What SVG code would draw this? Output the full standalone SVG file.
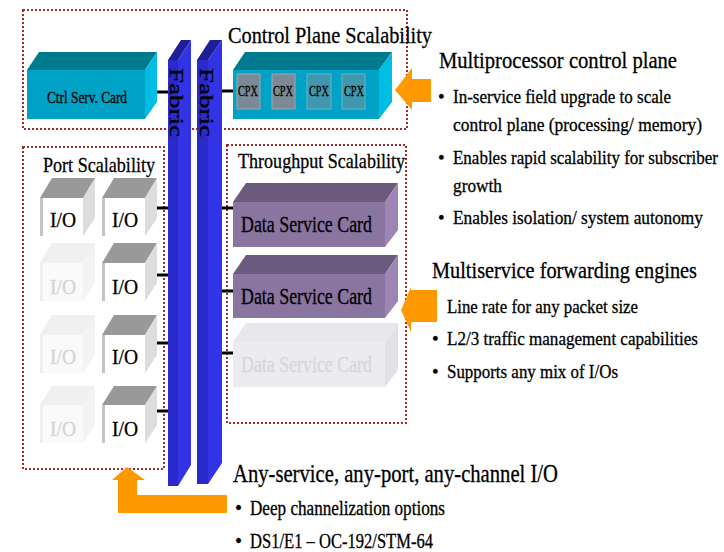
<svg xmlns="http://www.w3.org/2000/svg" width="724" height="552" viewBox="0 0 724 552">
<style>
.dash{fill:none;stroke:#a52a2a;stroke-width:2;stroke-dasharray:2 2}
.t{font-family:"Liberation Serif","Times New Roman",serif;fill:#000;stroke:#000;stroke-width:0.3}
.fade{fill:#d4d4d4;stroke:#d4d4d4}
.gfade{fill:#d8d6dc;stroke:#d8d6dc}
.wire{stroke:#000;stroke-width:3}
.arrow{fill:#ff9900}
.ctop{fill:#007a8e}.cfront{fill:#00a2c6}.cside{fill:#00bde4}
.cpx{fill:#7b8a96;stroke:#9aa8b2;stroke-width:1}
.cpx2{fill:#3f98ae;stroke:#6ab2c4;stroke-width:1}
.btop{fill:#1e1e98}.bfront{fill:#2a2acb}.bside{fill:#3333e6}
.iotop{fill:#999}.iofront{fill:#fff}.ioside{fill:#ddd}.iostripe{fill:#c4c4c4}
.ftop{fill:#f0f0f0}.ffront{fill:#fafafa}.fside{fill:#f3f3f3}.fstripe{fill:#efefef}
.dtop{fill:#6c5a7e}.dfront{fill:#8a74a0}.dside{fill:#9d86b6}
.gtop{fill:#e9e7ec}.gfront{fill:#ecebef}.gside{fill:#e3e1e7}
</style>
<rect width="724" height="552" fill="#fff"/>

<g id="regions">
<rect class="dash" x="23" y="10" width="384" height="119"/>
<rect class="dash" x="23" y="147" width="141" height="322"/>
<rect class="dash" x="227" y="145" width="179" height="278"/>
</g>

<g id="ctrl-card">
<polygon class="ctop" points="27,70 39,52 157,52 145,70"/>
<polygon class="cside" points="145,70 157,52 157,102 145,119"/>
<rect class="cfront" x="27" y="70" width="118" height="49"/>
<text class="t" x="47" y="103" font-size="17" textLength="80" lengthAdjust="spacingAndGlyphs">Ctrl Serv. Card</text>
</g>

<g id="cpx-card">
<polygon class="ctop" points="233,70 245,52 392,52 379,70"/>
<polygon class="cside" points="379,70 392,52 392,102 379,119"/>
<rect class="cfront" x="233" y="70" width="146" height="49"/>
<rect class="cpx" x="237" y="74" width="23" height="35"/>
<rect class="cpx" x="272" y="74" width="23" height="35"/>
<rect class="cpx2" x="307" y="74" width="24" height="35"/>
<rect class="cpx2" x="342" y="74" width="23" height="35"/>
<text class="t" x="238" y="96" font-size="14" textLength="20" lengthAdjust="spacingAndGlyphs">CPX</text>
<text class="t" x="273" y="96" font-size="14" textLength="20" lengthAdjust="spacingAndGlyphs">CPX</text>
<text class="t" x="309" y="96" font-size="14" textLength="20" lengthAdjust="spacingAndGlyphs">CPX</text>
<text class="t" x="344" y="96" font-size="14" textLength="20" lengthAdjust="spacingAndGlyphs">CPX</text>
</g>

<g id="titles">
<text class="t" x="228" y="43" font-size="24" textLength="204" lengthAdjust="spacingAndGlyphs">Control Plane Scalability</text>
<text class="t" x="43" y="172" font-size="22" textLength="112" lengthAdjust="spacingAndGlyphs">Port Scalability</text>
<text class="t" x="238" y="168" font-size="22" textLength="167" lengthAdjust="spacingAndGlyphs">Throughput Scalability</text>
</g>

<g id="io-cards">
<g id="io-1-1">
<polygon class="iotop" points="40,198 52,178 95,178 83,198"/>
<polygon class="ioside" points="83,198 95,178 95,218 83,236"/>
<rect class="iofront" x="40" y="198" width="43" height="38"/><rect class="iostripe" x="40" y="198" width="3" height="38"/>
<text class="t" x="50" y="227" font-size="21" textLength="26" lengthAdjust="spacingAndGlyphs">I/O</text>
</g>
<g id="io-1-2">
<polygon class="iotop" points="102,198 114,178 157,178 145,198"/>
<polygon class="ioside" points="145,198 157,178 157,218 145,236"/>
<rect class="iofront" x="102" y="198" width="43" height="38"/><rect class="iostripe" x="102" y="198" width="3" height="38"/>
<text class="t" x="112" y="227" font-size="21" textLength="26" lengthAdjust="spacingAndGlyphs">I/O</text>
</g>
<g id="io-2-1">
<polygon class="ftop" points="40,263 52,243 95,243 83,263"/>
<polygon class="fside" points="83,263 95,243 95,283 83,301"/>
<rect class="ffront" x="40" y="263" width="43" height="38"/><rect class="fstripe" x="40" y="263" width="3" height="38"/>
<text class="t fade" x="50" y="294" font-size="21" textLength="26" lengthAdjust="spacingAndGlyphs">I/O</text>
</g>
<g id="io-2-2">
<polygon class="iotop" points="102,263 114,243 157,243 145,263"/>
<polygon class="ioside" points="145,263 157,243 157,283 145,301"/>
<rect class="iofront" x="102" y="263" width="43" height="38"/><rect class="iostripe" x="102" y="263" width="3" height="38"/>
<text class="t" x="112" y="294" font-size="21" textLength="26" lengthAdjust="spacingAndGlyphs">I/O</text>
</g>
<g id="io-3-1">
<polygon class="ftop" points="40,335 52,315 95,315 83,335"/>
<polygon class="fside" points="83,335 95,315 95,355 83,373"/>
<rect class="ffront" x="40" y="335" width="43" height="38"/><rect class="fstripe" x="40" y="335" width="3" height="38"/>
<text class="t fade" x="50" y="364" font-size="21" textLength="26" lengthAdjust="spacingAndGlyphs">I/O</text>
</g>
<g id="io-3-2">
<polygon class="iotop" points="102,335 114,315 157,315 145,335"/>
<polygon class="ioside" points="145,335 157,315 157,355 145,373"/>
<rect class="iofront" x="102" y="335" width="43" height="38"/><rect class="iostripe" x="102" y="335" width="3" height="38"/>
<text class="t" x="112" y="364" font-size="21" textLength="26" lengthAdjust="spacingAndGlyphs">I/O</text>
</g>
<g id="io-4-1">
<polygon class="ftop" points="40,405 52,386 95,386 83,405"/>
<polygon class="fside" points="83,405 95,386 95,425 83,443"/>
<rect class="ffront" x="40" y="405" width="43" height="38"/><rect class="fstripe" x="40" y="405" width="3" height="38"/>
<text class="t fade" x="50" y="436" font-size="21" textLength="26" lengthAdjust="spacingAndGlyphs">I/O</text>
</g>
<g id="io-4-2">
<polygon class="iotop" points="102,405 114,386 157,386 145,405"/>
<polygon class="ioside" points="145,405 157,386 157,425 145,443"/>
<rect class="iofront" x="102" y="405" width="43" height="38"/><rect class="iostripe" x="102" y="405" width="3" height="38"/>
<text class="t" x="112" y="436" font-size="21" textLength="26" lengthAdjust="spacingAndGlyphs">I/O</text>
</g>
</g>

<g id="data-cards">
<g id="dsc-1">
<polygon class="dtop" points="233,202 246,183 398,183 385,202"/>
<polygon class="dside" points="385,202 398,183 398,230 385,247"/>
<rect class="dfront" x="233" y="202" width="152" height="45"/>
<text class="t" x="241" y="232" font-size="23" textLength="131" lengthAdjust="spacingAndGlyphs">Data Service Card</text>
</g>
<g id="dsc-2">
<polygon class="dtop" points="233,274 246,255 398,255 385,274"/>
<polygon class="dside" points="385,274 398,255 398,301 385,318"/>
<rect class="dfront" x="233" y="274" width="152" height="44"/>
<text class="t" x="241" y="304" font-size="23" textLength="131" lengthAdjust="spacingAndGlyphs">Data Service Card</text>
</g>
<g id="dsc-3">
<polygon class="gtop" points="233,342 246,323 398,323 385,342"/>
<polygon class="gside" points="385,342 398,323 398,370 385,387"/>
<rect class="gfront" x="233" y="342" width="152" height="45"/>
<text class="t gfade" x="241" y="372" font-size="23" textLength="131" lengthAdjust="spacingAndGlyphs">Data Service Card</text>
</g>
</g>

<g id="fabric-1">
<polygon class="btop" points="168,60 181,40 191,40 178,60"/>
<polygon class="bside" points="178,60 191,40 191,465 178,486"/>
<rect class="bfront" x="168" y="60" width="10" height="426"/>
<text class="t" transform="translate(170,68) rotate(90)" font-size="18" textLength="69" lengthAdjust="spacingAndGlyphs">Fabric</text>
</g>
<g id="fabric-2">
<polygon class="btop" points="197,60 210,40 222,40 208,60"/>
<polygon class="bside" points="208,60 222,40 222,463 208,484"/>
<rect class="bfront" x="197" y="60" width="11" height="424"/>
<text class="t" transform="translate(200,68) rotate(90)" font-size="18" textLength="69" lengthAdjust="spacingAndGlyphs">Fabric</text>
</g>

<g id="connectors">
<line class="wire" x1="157" y1="92" x2="168" y2="92"/>
<line class="wire" x1="222" y1="91" x2="233" y2="91"/>
<line class="wire" x1="157" y1="208" x2="168" y2="208"/>
<line class="wire" x1="157" y1="275" x2="168" y2="275"/>
<line class="wire" x1="157" y1="343" x2="168" y2="343"/>
<line class="wire" x1="157" y1="411" x2="168" y2="411"/>
<line class="wire" x1="222" y1="208" x2="233" y2="208"/>
<line class="wire" x1="222" y1="291" x2="233" y2="291"/>
<line class="wire" x1="222" y1="353" x2="233" y2="353"/>
<polygon class="arrow" points="395,90 412,68 412,79 431,79 431,102 412,102 412,110"/>
<polygon class="arrow" points="401,310 411,287 411,290 437,290 437,322 411,322 411,332"/>
<polygon class="arrow" points="127,467 145,480 137,480 137,495 227,495 227,513 118,513 118,480 112,480"/>
</g>

<g id="notes">
<text class="t" x="439" y="68" font-size="24" textLength="238" lengthAdjust="spacingAndGlyphs">Multiprocessor control plane</text>
<text class="t" x="438" y="103" font-size="19">•</text>
<text class="t" x="453" y="103" font-size="19" textLength="218" lengthAdjust="spacingAndGlyphs">In-service field upgrade to scale</text>
<text class="t" x="453" y="131" font-size="19" textLength="249" lengthAdjust="spacingAndGlyphs">control plane (processing/ memory)</text>
<text class="t" x="438" y="164" font-size="19">•</text>
<text class="t" x="453" y="164" font-size="19" textLength="265" lengthAdjust="spacingAndGlyphs">Enables rapid scalability for subscriber</text>
<text class="t" x="453" y="192" font-size="19" textLength="49" lengthAdjust="spacingAndGlyphs">growth</text>
<text class="t" x="438" y="224" font-size="19">•</text>
<text class="t" x="453" y="224" font-size="19" textLength="250" lengthAdjust="spacingAndGlyphs">Enables isolation/ system autonomy</text>

<text class="t" x="432" y="278" font-size="23" textLength="265" lengthAdjust="spacingAndGlyphs">Multiservice forwarding engines</text>
<text class="t" x="447" y="313" font-size="19" textLength="191" lengthAdjust="spacingAndGlyphs">Line rate for any packet size</text>
<text class="t" x="432" y="345" font-size="19">•</text>
<text class="t" x="447" y="345" font-size="19" textLength="251" lengthAdjust="spacingAndGlyphs">L2/3 traffic management capabilities</text>
<text class="t" x="432" y="378" font-size="19">•</text>
<text class="t" x="447" y="378" font-size="19" textLength="171" lengthAdjust="spacingAndGlyphs">Supports any mix of I/Os</text>

<text class="t" x="233" y="482" font-size="25" textLength="325" lengthAdjust="spacingAndGlyphs">Any-service, any-port, any-channel I/O</text>
<text class="t" x="235" y="515" font-size="20">•</text>
<text class="t" x="250" y="515" font-size="20" textLength="195" lengthAdjust="spacingAndGlyphs">Deep channelization options</text>
<text class="t" x="235" y="548" font-size="20">•</text>
<text class="t" x="250" y="548" font-size="20" textLength="183" lengthAdjust="spacingAndGlyphs">DS1/E1 – OC-192/STM-64</text>
</g>
</svg>
